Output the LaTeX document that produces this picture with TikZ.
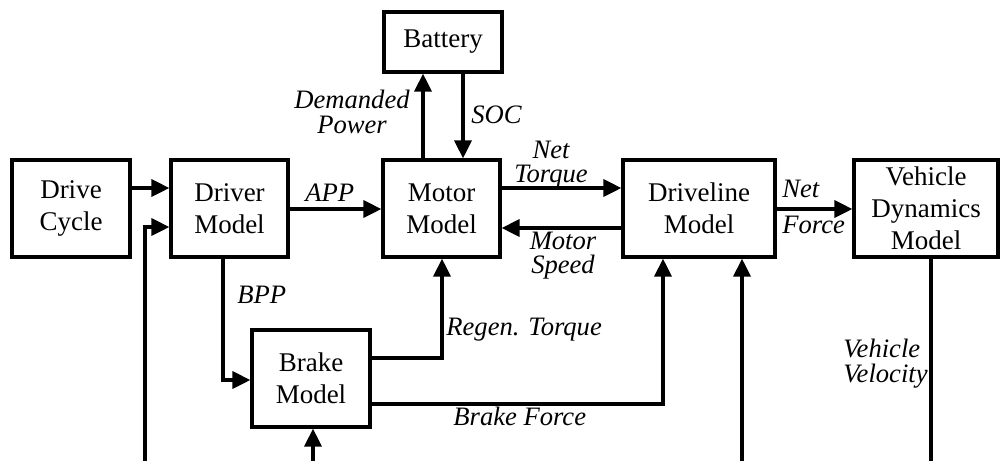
\documentclass[tikz,border=0pt]{standalone}
\usepackage{fontspec}
\setmainfont{Liberation Serif}
\usetikzlibrary{arrows.meta}
\begin{document}
\begin{tikzpicture}[x=0.5pt,y=-0.5pt,
  blk/.style={draw, line width=1.6pt, inner sep=0pt, align=center,
    font=\fontsize{13.5}{16}\selectfont},
  arr/.style={line width=1.6pt, -{Triangle[length=9pt,width=8.5pt]}},
  ln/.style={line width=1.6pt},
  lbl/.style={inner sep=0pt, font=\fontsize{13.3}{12.5}\selectfont\itshape}]
\useasboundingbox (0,0) rectangle (1001,461);

% blocks
\node[blk, minimum width=59pt, minimum height=48.5pt] (cycle) at (71,208.5) {Drive\\Cycle};
\node[blk, minimum width=58.5pt, minimum height=48.5pt] (driver) at (229.5,208.5) {Driver\\Model};
\node[blk, minimum width=58.5pt, minimum height=48.5pt] (motor) at (441.5,208.5) {Motor\\Model};
\node[blk, minimum width=59pt, minimum height=30pt] (battery) at (443,42) {Battery};
\node[blk, minimum width=76pt, minimum height=48.5pt] (driveline) at (699,208.5) {Driveline\\Model};
\node[blk, minimum width=72pt, minimum height=48.5pt] (vehicle) at (926,208.5) {Vehicle\\Dynamics\\Model};
\node[blk, minimum width=59pt, minimum height=48.5pt] (brake) at (311,378.5) {Brake\\Model};

% free ends
\coordinate (fb) at (145,461);
\coordinate (bin) at (313,461);
\coordinate (din) at (742,461);
\coordinate (vout) at (931,461);

% connectors
\draw[arr] (cycle.east |- 0,188) -- (driver.west |- 0,188);
\draw[arr] (fb) |- (driver.west |- 0,227);
\draw[arr] (driver.east |- 0,209) -- (motor.west |- 0,209);
\draw[arr] (driver.south -| 223,0) |- (brake.west |- 0,380);
\draw[arr] (bin) -- (brake.south -| bin);
\draw[arr] (brake.east |- 0,358) -| (motor.south -| 442,0);
\draw[arr] (brake.east |- 0,404) -| (driveline.south -| 663,0);
\draw[arr] (din) -- (driveline.south -| din);
\draw[ln] (vehicle.south -| vout) -- (vout);
\draw[arr] (motor.north -| 423,0) -- (battery.south -| 423,0);
\draw[arr] (battery.south -| 463,0) -- (motor.north -| 463,0);
\draw[arr] (motor.east |- 0,188) -- (driveline.west |- 0,188);
\draw[arr] (driveline.west |- 0,228) -- (motor.east |- 0,228);
\draw[arr] (driveline.east |- 0,209) -- (vehicle.west |- 0,209);

% labels
\node[lbl, anchor=base west] (lapp) at (305,201) {APP};
\node[lbl, anchor=base west] (lbpp) at (237,303) {BPP};
\node[lbl, anchor=base west] (lsoc) at (471,123) {SOC};
\node[lbl, anchor=base west] (lregen) at (446,335) {Regen. Torque};
\node[lbl, anchor=base west] (lbf) at (453,425) {Brake Force};
\node[lbl, align=center, anchor=base] (ldp) at (352,133) {Demanded\\Power};
\node[lbl, align=center, anchor=base, font=\fontsize{13.3}{12}\selectfont\itshape] (lnt) at (551,182) {Net\\Torque};
\node[lbl, align=center, anchor=base, font=\fontsize{13.3}{12}\selectfont\itshape] (lms) at (563,273) {Motor\\Speed};
\node[lbl, align=left, anchor=base west, font=\fontsize{13.3}{18}\selectfont\itshape] (lnf) at (782,233) {Net\\Force};
\node[lbl, align=left, anchor=base west] (lvv) at (843,382) {Vehicle\\Velocity};
\end{tikzpicture}
\end{document}
